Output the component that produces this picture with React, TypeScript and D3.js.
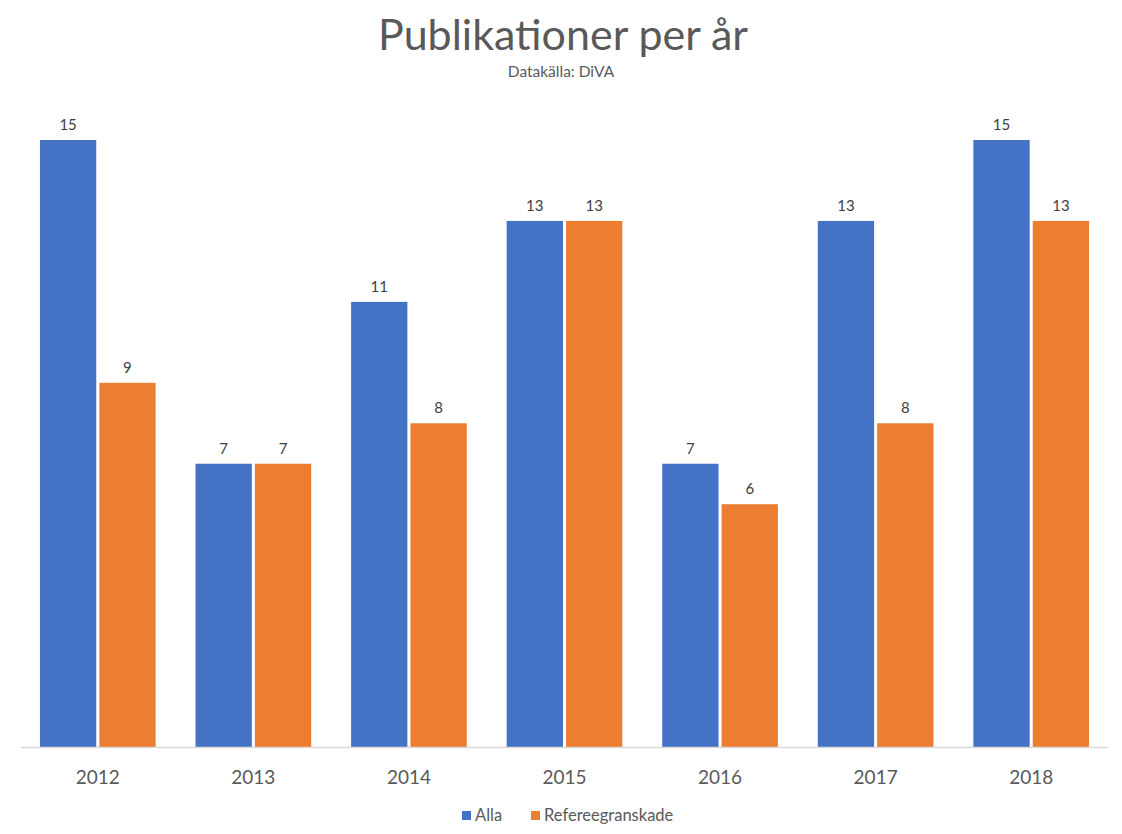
import React, { useEffect, useRef } from "react";
import * as d3 from "d3";

const years = ["2012", "2013", "2014", "2015", "2016", "2017", "2018"];
const alla = [15, 7, 11, 13, 7, 13, 15];
const referee = [9, 7, 8, 13, 6, 8, 13];
const seriesNames = ["Alla", "Refereegranskade"];
const colors = ["#4472C4", "#ED7D31"];

export default function App() {
  const svgRef = useRef<SVGSVGElement>(null);

  useEffect(() => {
    const svg = d3.select(svgRef.current);
    svg.selectAll("*").remove();

    const width = 1122;
    const height = 834;
    const font = "Lato, 'Open Sans', sans-serif";
    const textColor = "#595959";

    const left = 20;
    const right = 1109;
    const baseY = 747;
    const topY = 140;

    const x = d3.scaleBand().domain(years).range([left, right]).paddingInner(40 / 156).paddingOuter(20 / 156);
    const x1 = d3.scaleBand().domain(seriesNames).range([0, x.bandwidth()]).paddingInner(6 / 116);
    const y = d3.scaleLinear().domain([0, 15]).range([baseY, topY]);

    svg.append("rect").attr("width", width).attr("height", height).attr("fill", "#fff");

    // title
    svg.append("text")
      .attr("x", width / 2 + 2).attr("y", 50)
      .attr("text-anchor", "middle")
      .style("font-family", font).style("font-size", "43px")
      .style("fill", textColor)
      .text("Publikationer per år");

    svg.append("text")
      .attr("x", width / 2).attr("y", 77)
      .attr("text-anchor", "middle")
      .style("font-family", font).style("font-size", "15.5px")
      .style("fill", textColor)
      .text("Datakälla: DiVA");

    const series = [alla, referee];

    // bars
    const groups = svg.append("g")
      .selectAll("g")
      .data(years)
      .join("g")
      .attr("transform", (d) => `translate(${x(d)},0)`);

    seriesNames.forEach((name, si) => {
      groups.append("rect")
        .attr("x", x1(name)!)
        .attr("width", x1.bandwidth())
        .attr("y", (_d, i) => y(series[si][i]))
        .attr("height", (_d, i) => baseY - y(series[si][i]))
        .attr("fill", colors[si]);

      groups.append("text")
        .attr("x", x1(name)! + x1.bandwidth() / 2)
        .attr("y", (_d, i) => y(series[si][i]) - 10)
        .attr("text-anchor", "middle")
        .style("font-family", font).style("font-size", "15px")
        .style("fill", "#404040")
        .text((_d, i) => series[si][i]);
    });

    // axis line
    svg.append("line")
      .attr("x1", left + 1).attr("x2", right - 1)
      .attr("y1", baseY + 0.5).attr("y2", baseY + 0.5)
      .attr("stroke", "#D9D9D9").attr("stroke-width", 1.5);

    // tick labels
    svg.append("g")
      .selectAll("text")
      .data(years)
      .join("text")
      .attr("x", (d) => x(d)! + x.bandwidth() / 2)
      .attr("y", 784)
      .attr("text-anchor", "middle")
      .style("font-family", font).style("font-size", "19px")
      .style("fill", textColor)
      .text((d) => d);

    // legend
    const legendItems = [
      { name: seriesNames[0], color: colors[0], x: 462 },
      { name: seriesNames[1], color: colors[1], x: 531 },
    ];
    const lg = svg.append("g").selectAll("g").data(legendItems).join("g")
      .attr("transform", (d) => `translate(${d.x},811)`);
    lg.append("rect").attr("width", 9).attr("height", 9).attr("fill", (d) => d.color);
    lg.append("text")
      .attr("x", 13).attr("y", 10)
      .style("font-family", font).style("font-size", "16.5px")
      .style("fill", textColor)
      .text((d) => d.name);
  }, []);

  return (
    <svg ref={svgRef} width={1122} height={834} style={{ position: "absolute", left: 0, top: 0 }} />
  );
}
